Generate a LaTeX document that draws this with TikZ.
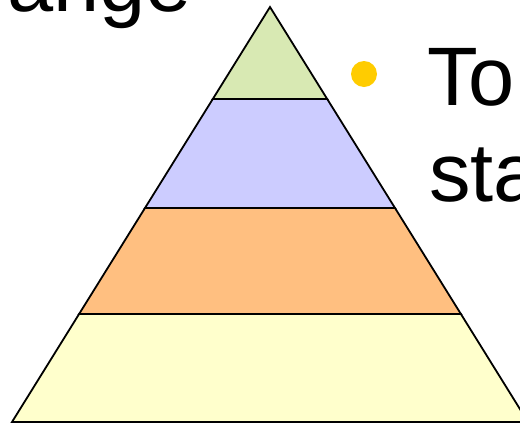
\documentclass[tikz,border=0pt]{standalone}
\usepackage{fontspec}
\setmainfont{Liberation Sans}
\usepackage{xcolor}
\usetikzlibrary{positioning, calc}
\definecolor{tipgreen}{HTML}{D8E9B3}
\definecolor{midblue}{HTML}{CCCCFF}
\definecolor{midorange}{HTML}{FFBF80}
\definecolor{baseyellow}{HTML}{FFFFCC}
\definecolor{bulletgold}{HTML}{FFCC00}
\tikzstyle{layer}     = [draw=black, line width=1.8pt, line join=miter]
\tikzstyle{slidetext} = [inner sep=0pt, font=\fontsize{83}{93}\selectfont, text=black]

\begin{document}
\begin{tikzpicture}[x=1pt, y=-1pt]
  \useasboundingbox (0,0) rectangle (520,424);
  \clip (0,0) rectangle (520,424);

  % pyramid levels
  \coordinate (apex) at (270,7);
  \coordinate (l1) at (212.8,99);  \coordinate (r1) at (327.2,99);
  \coordinate (l2) at (145.0,208); \coordinate (r2) at (395.0,208);
  \coordinate (l3) at (79.1,314);  \coordinate (r3) at (460.9,314);
  \coordinate (l4) at (12,422);    \coordinate (r4) at (528,422);

  \draw[layer, fill=baseyellow] (l3) -- (r3) -- (r4) -- (l4) -- cycle;
  \draw[layer, fill=midorange]  (l2) -- (r2) -- (r3) -- (l3) -- cycle;
  \draw[layer, fill=midblue]    (l1) -- (r1) -- (r2) -- (l2) -- cycle;
  \draw[layer, fill=tipgreen]   (apex) -- (r1) -- (l1) -- cycle;

  % slide text
  \node (title) [slidetext, anchor=base east] at (192,11) {ange};
  \node (prev)  [slidetext, anchor=base west] at (487,-19) {y};
  \fill[bulletgold] (364,74) circle (13pt) node (bullet) {};
  \node (line1) [slidetext, anchor=base west] at (427,105) {To};
  \node (line2) [slidetext, anchor=base west] at (429,201) {sta};
\end{tikzpicture}
\end{document}
